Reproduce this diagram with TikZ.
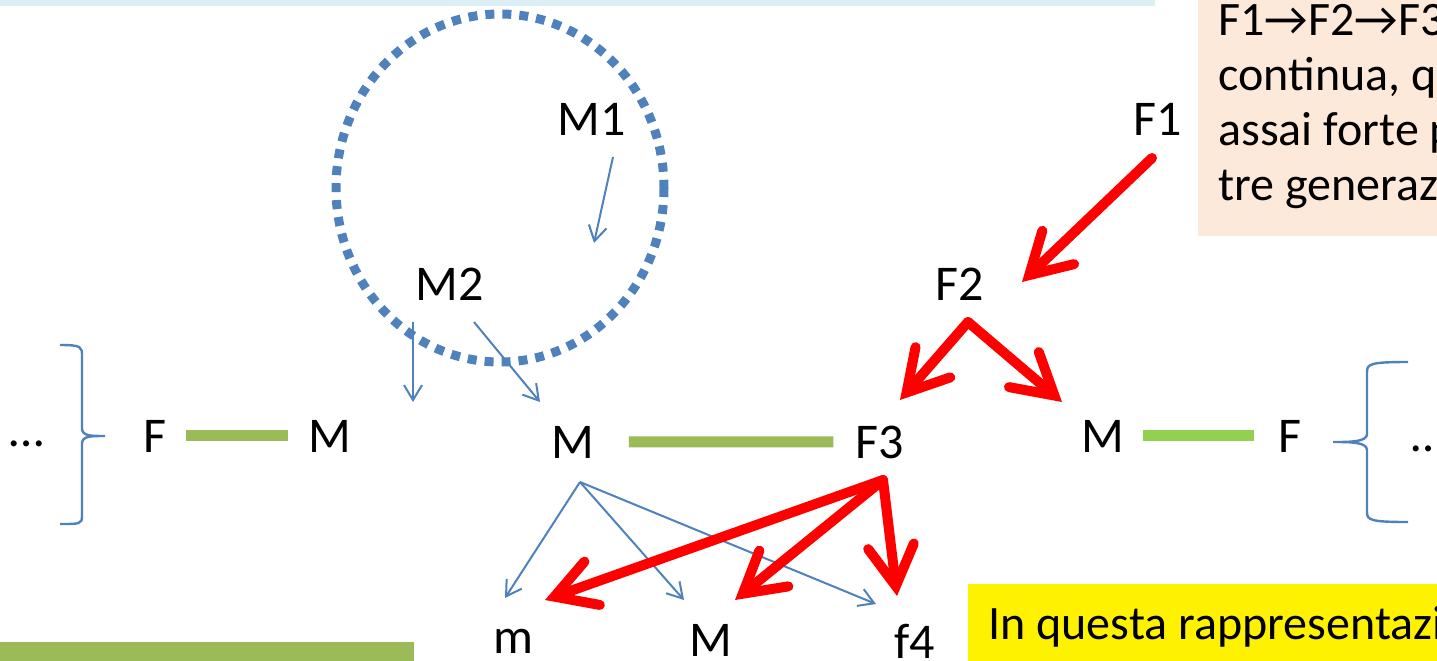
\documentclass[tikz,border=0pt]{standalone}
\usepackage{fontspec}
\setmainfont{Carlito}
\usetikzlibrary{arrows.meta}

\definecolor{famblue}{HTML}{4F81BD}
\definecolor{olivebar}{HTML}{9BBB59}
\definecolor{limebar}{HTML}{92D050}
\definecolor{peach}{HTML}{FDE9D9}
\definecolor{paleblue}{HTML}{DBEEF4}

\begin{document}
\begin{tikzpicture}[x=0.5pt,y=-0.5pt,
    lbl/.style={font=\fontsize{25}{30}\selectfont, inner sep=0pt, anchor=base},
    note/.style={font=\fontsize{24}{27.5}\selectfont, inner sep=0pt, anchor=base west},
    kin/.style={famblue, line width=1pt, -{Straight Barb[length=7.5pt,width=9pt]}},
    redarrow/.style={red, line width=5pt, line cap=round,
        -{Straight Barb[length=20pt,width=23pt,line cap=round]}},
    couple/.style={line width=5.5pt}]

    \useasboundingbox (0,0) rectangle (1437,660);
    \clip (0,0) rectangle (1437,660);

    % Background boxes
    \fill[paleblue] (0,-5) rectangle (1155,6);
    \fill[peach] (1198,-5) rectangle (1445,236);
    \fill[yellow] (968,584) rectangle (1445,665);
    \fill[olivebar] (0,642) rectangle (414,665);

    % Box texts
    \node[note] (t1) at (1218,35) {F1→F2→F3};
    \node[note] (t2) at (1218,90) {continua, q};
    \node[note] (t3) at (1218,145) {assai forte p};
    \node[note] (t4) at (1218,200) {tre generaz};
    \node[note] (t5) at (988,639) {In questa rappresentazi};

    % The dotted circle round M1 and M2
    \draw[famblue, line width=4.5pt, dash pattern=on 4.5pt off 4pt]
        (500,188) ellipse [x radius=164, y radius=174];

    % Labels
    \node[lbl] (M1) at (592,135) {M1};
    \node[lbl] (M2) at (450,300) {M2};
    \node[lbl] (F1) at (1158,135) {F1};
    \node[lbl] (F2) at (960,300) {F2};

    \node[lbl] (dotsL) at (27,446) {…};
    \node[lbl] (Fl) at (155,452) {F};
    \node[lbl] (Ml) at (330,452) {M};
    \node[lbl] (Mc) at (573,458) {M};
    \node[lbl] (F3) at (880,458) {F3};
    \node[lbl] (Mr) at (1103,452) {M};
    \node[lbl] (Fr) at (1290,452) {F};
    \node[lbl, anchor=base west] (dotsR) at (1411,451) {…};

    \node[lbl] (m) at (513,653) {m};
    \node[lbl] (Mb) at (711,656) {M};
    \node[lbl] (f4) at (915,658) {f4};

    % Couples
    \draw[couple, olivebar, shorten <=9.5pt, shorten >=10pt] (Fl.east) -- (Ml.west);
    \draw[couple, olivebar, shorten <=17pt, shorten >=11pt] (Mc.east) -- (F3.west);
    \draw[couple, limebar, shorten <=9pt, shorten >=12pt] (Mr.east) -- (Fr.west);

    % Braces
    \draw[famblue, line width=1.2pt] (60,345) .. controls (82,345) and (82,347) .. (82,356)
        -- (82,428) .. controls (82,436) and (90,436) .. (105,436)
        .. controls (90,436) and (82,436) .. (82,444) -- (82,516)
        .. controls (82,524) and (80,524) .. (60,524);
    \draw[famblue, line width=1.2pt] (1408,362) .. controls (1370,362) and (1367,364) .. (1367,372)
        -- (1367,434) .. controls (1367,442) and (1350,442) .. (1333,442)
        .. controls (1350,442) and (1367,442) .. (1367,450) -- (1367,512)
        .. controls (1367,520) and (1370,522) .. (1408,522);

    % Arrow ends
    \coordinate (m1tail) at (613,157);
    \coordinate (m1head) at (594,243);
    \coordinate (m2tailA) at (413,322);
    \coordinate (m2headA) at (413,402);
    \coordinate (m2tailB) at (474,322);
    \coordinate (m2headB) at (540,402);
    \coordinate (mctail) at (580,482);
    \coordinate (f3tail) at (883,480);
    \coordinate (f1tail) at (1152,158);
    \coordinate (f2head) at (1022,282);
    \coordinate (f2tail) at (968,322);
    \coordinate (f3head) at (900,400);
    \coordinate (mrhead) at (1062,402);

    % Thin blue arrows
    \draw[kin] (m1tail) -- (m1head);
    \draw[kin] (m2tailA) -- (m2headA);
    \draw[kin] (m2tailB) -- (m2headB);
    \draw[kin] (mctail) -- (505,598);
    \draw[kin] (mctail) -- (684,600);
    \draw[kin] (mctail) -- (876,604);

    % Thick red arrows
    \draw[redarrow] (f1tail) -- (f2head);
    \draw[redarrow] (f2tail) -- (f3head);
    \draw[redarrow] (f2tail) -- (mrhead);
    \draw[redarrow] (f3tail) -- (545,600);
    \draw[redarrow] (f3tail) -- (735,600);
    \draw[redarrow] (f3tail) -- (897,596);
\end{tikzpicture}
\end{document}
